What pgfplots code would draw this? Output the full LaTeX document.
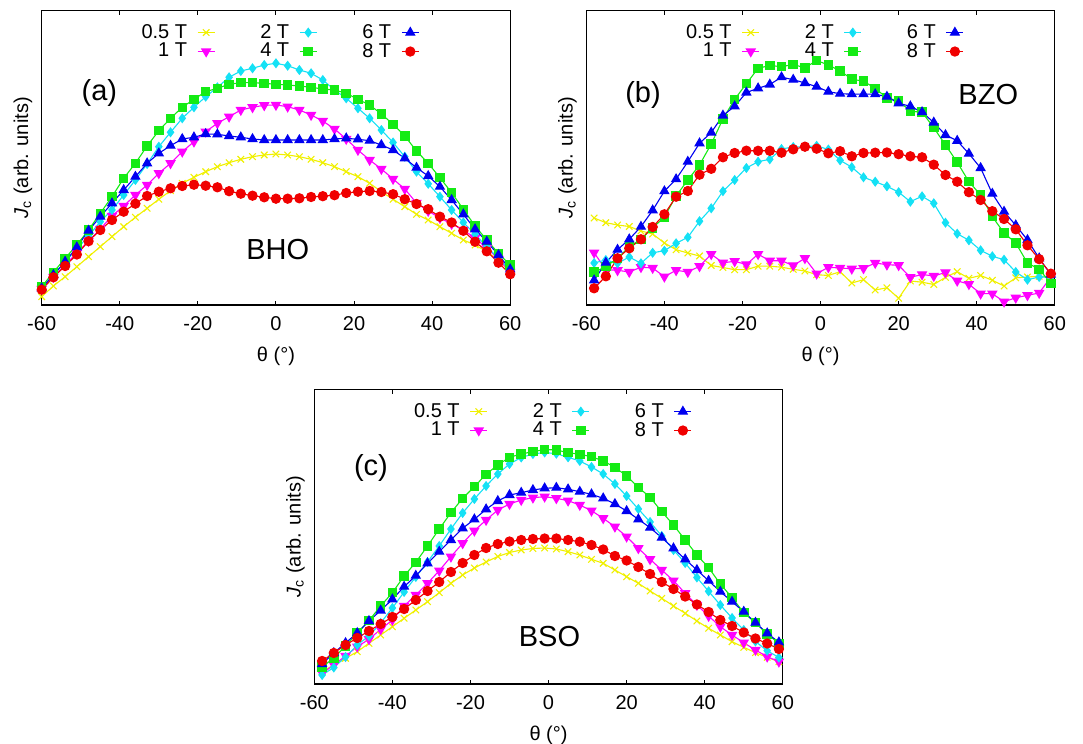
\documentclass[border=0pt]{standalone}
\usepackage{fontspec}
\setmainfont{Liberation Sans}
\usepackage{pgfplots}
\usepackage{pgfplotstable}
\pgfplotsset{compat=1.18}

\definecolor{cyel}{RGB}{240,240,0}
\definecolor{cmag}{RGB}{255,0,255}
\definecolor{ccya}{RGB}{20,225,245}
\definecolor{cgre}{RGB}{20,235,20}
\definecolor{cblu}{RGB}{0,0,240}
\definecolor{cred}{RGB}{240,0,0}

\pgfplotstableread{
x y05 y1 y2 y4 y6 y8
-60 8.3 16 17 18.3 16.7 15.3
-57 19 28 30 32.7 30 27.7
-54 28.3 40 43 46.7 43.3 39
-51 38.3 52 56 60 57.7 50.5
-48 48.3 64 69 75 74.3 63.8
-45 58.3 76 83.3 91.7 88.3 75
-42 68.3 89 95 108.3 101.7 85
-39 78.3 99 110 126.7 115 93.3
-36 87.7 110 125 141.7 128.3 101.3
-33 96.7 120 141 159 141.7 109
-30 105.7 131.7 158.3 174.3 151.7 113.3
-27 114.3 141.7 172.7 186.7 159.3 116.7
-24 121.7 153.3 186.7 197.7 166 119
-21 127.7 163.3 197.7 205.7 167.7 120.3
-18 133.3 173.3 208.3 213.3 171 119.3
-15 138.3 181.7 217.7 216.7 170.7 117.7
-12 142.3 188.3 227.7 220.7 169 113.8
-9 145.7 195 234 222.3 167.7 111.3
-6 148.3 197.7 236.7 222.3 166 109.3
-3 150 199.7 240 221.7 165 107.7
0 151 200 241.7 220.7 165 106.3
3 150 198.3 239.3 220 165 106.3
6 148.3 195 235 219 165 106.7
9 145.7 190 231.7 217.7 165 108
12 142.3 184 225 216 165 108.8
15 138.3 176 215 215 166 109.8
18 133.3 166 206.7 211.7 166.7 112
21 128.3 155 196.7 205.7 165.7 113.3
24 121.7 145 186.7 200 164.3 114
27 113.3 136 175 191 160 113
30 105.7 126 162.5 180.7 155 110.8
33 98.3 116 148.3 169 146.7 105.8
36 90.7 102 133.3 154 137.3 101
39 85 94 121.2 141.7 129 95.8
42 78.3 87 108.3 127.3 118.3 88.3
45 71.7 81 95 112.3 105 82.5
48 65 75 82.5 95.7 90.7 74.2
51 60 67 70.8 79 75.7 63.3
54 53.3 57 58.3 65 63.3 53.7
57 45 46 46.7 51.7 50 42.3
60 33 33 35 40 35.7 30.8
}\tableA

\pgfplotstableread{
x y05 y1 y2 y4 y6 y8
-58 87 52.3 42 32.8 24.7 16.7
-55 82.3 35.3 45 38.3 42.3 28.7
-52 80 34.7 41.7 46.7 55.3 46.7
-49 78.5 33 48 58.3 65.7 56.7
-46 74 37.8 41.7 65.7 78.3 65.7
-43 71 37 52.2 77 94.7 78
-40 62 28.3 54.3 88 113.8 90.7
-37 55.3 34.7 61.7 109 125.8 108.3
-34 52 33 67.7 125 143.3 114
-31 49 38.7 83.8 140 161.7 130.3
-28 39.5 50.8 96.7 161 172.5 136.2
-25 37.5 42.2 113.8 186 189.5 147.7
-22 35.3 43.7 125 205.7 198.7 152
-19 35.3 40.5 137 221.3 212.5 154.3
-16 38.8 50.8 143.3 236.7 216.7 154.2
-13 38.8 44.2 145.7 239.5 220.5 154.2
-10 37.8 44.2 156 238.3 227.8 152.3
-7 35.7 39.5 158 240.5 225.3 155.7
-4 34 46.7 158.3 237.2 222 158.3
-1 30.3 31.3 159.2 244.5 218.3 156.3
2 29.5 37.7 155.5 240 213.3 151.7
5 33.3 37 144.7 234.2 211.3 153.8
8 22 36.2 137.8 225.8 210.8 148.7
11 25.3 36.7 127.7 223.8 210.8 152
14 15 42 123.3 216.7 210.8 152.3
17 17.2 40.3 118.7 207 208.3 152.5
20 6.7 39.7 112.8 204.2 201.7 150.8
23 24 27.7 103.3 193.7 198.7 148.7
26 22.8 30.5 108.7 192.8 192.8 147.7
29 20.5 29 101.7 177.3 182.5 140.3
32 27.7 32.5 82.3 160 170 130
35 33.3 24.2 71.3 142.8 164.2 123.3
38 26.7 20.8 64.7 123.3 151.3 112.8
41 29.5 11.3 54.7 110 137 105
44 24.7 11.3 48.7 88.3 111.3 93.8
47 19 3.3 45.3 72 93.3 86
50 27.2 7.2 33 62 79.7 75.7
53 28 9.7 25.3 42 65 59.7
56 28.7 12 28 35.7 46.7 45.8
59 28 28 28 21.7 30.3 31.3
}\tableB

\pgfplotstableread{
x y05 y1 y2 y4 y6 y8
-58 12.3 10.7 9 17 20 23
-55 19 19 16.5 26 31 31
-52 25.7 28 27 38 41 39
-49 32.3 37.3 39 51 51 46
-46 40.7 44.7 48 63.3 63 53
-43 49 54.7 61 78 73.5 60
-40 57.3 64 76 91.3 84.7 67
-37 65.7 78 92 108 97.3 75
-34 74 89 107 121.7 108.3 84
-31 82.3 100.7 122 138 120.7 93
-28 91.3 113.3 138 155 132.3 102
-25 100.7 127.3 155 171.3 144 112
-22 109 140.7 171 185.7 155.7 121
-19 116 153.3 185 197.3 164.7 129
-16 122 164 198 209.7 174.7 136
-13 127.5 174 210 219 183 140
-10 131.5 180 220 226.7 189 142.5
-7 134 184 226.5 230 191.3 144
-4 135.5 186.3 230 232.3 194 145
-1 136 187.3 231.5 234.5 195.7 145.5
2 135 185.7 230.3 234 196.3 145.5
5 132.3 183.3 226.7 231.3 194.7 144
8 129 179 223 229.7 192.3 142.3
11 124.7 173.3 217 227.3 189.7 139
14 120.7 165.7 210 223 185.7 134.5
17 114 157.3 200 216.7 180 128
20 107.3 147.3 188 208 173 123.5
23 100.7 135.7 175 196.7 164.7 117
26 93 124.7 162 186.7 156.3 110
29 85.7 114 148 172.3 146.3 102
32 78 103.3 134 159 135.7 95
35 70.7 90.7 121 144 124.7 87.5
38 63 79 106.5 129 114 79.5
41 55.7 68 92.7 116.3 103.3 72
44 49 57.3 79 100 92.3 64
47 42.3 49 66 86.3 82.3 58
50 36.7 41.3 54 71.3 72.3 51.5
53 31.3 34 42.5 61.3 61.3 45.5
56 26.7 27.3 33.3 50 50.7 40.5
59 22.3 22.3 26.5 40.7 41.7 35
}\tableC

\newcommand{\fs}{\fontsize{10}{11.5}\selectfont}
\newcommand{\fb}{\fontsize{14.5}{16}\selectfont}

\pgfplotsset{
  s05/.style={color=cyel, line width=0.55pt, mark=x, mark size=2.3pt},
  s1/.style={color=cmag, line width=0.55pt, mark=triangle*, mark size=2.5pt, mark options={rotate=180}},
  s2/.style={color=ccya, line width=0.55pt, mark=diamond*, mark size=2.1pt},
  s4/.style={color=cgre, line width=0.55pt, mark=square*, mark size=2.1pt},
  s6/.style={color=cblu, line width=0.55pt, mark=triangle*, mark size=2.5pt},
  s8/.style={color=cred, line width=0.55pt, mark=*, mark size=2.3pt},
  panel/.style={
    scale only axis, width=234.25pt, height=147.15pt,
    xmin=-60, xmax=60, ymin=0, ymax=294.3,
    xtick={-60,-40,-20,0,20,40,60},
    xticklabels={-60,-40,-20,0,20,40,60},
    ytick=\empty,
    tick align=inside,
    major tick length=2pt,
    axis line style={line width=0.65pt},
    every tick/.style={black, line width=0.5pt},
    tick label style={font=\fs},
    x tick label style={yshift=-2.4pt},
    xlabel={θ (°)},
    xlabel style={at={(axis description cs:0.5,-0.173)}, anchor=center, font=\fs},
    ylabel={\textit{J}\textsubscript{c} (arb. units)},
    ylabel style={at={(axis description cs:-0.04,0.5)}, anchor=center, font=\fs},
    clip=false,
    legend columns=3, legend plot pos=right, legend cell align=right,
    legend style={at={(0.5,1)}, anchor=north, yshift=-6pt, xshift=2pt, draw=none, fill=none,
      font=\fs, inner sep=0pt, row sep=0pt, nodes={inner sep=0.5pt},
      /tikz/every odd column/.append style={column sep=4.5pt},
      /tikz/every even column/.append style={column sep=22pt}},
    legend image code/.code={\draw[mark repeat=2,mark phase=2] plot coordinates {(0cm,0cm) (0.15cm,0cm) (0.3cm,0cm)};},
  },
}

\newcommand{\legimgs}{%
  \addlegendimage{s05}\addlegendentry{0.5 T}
  \addlegendimage{s2}\addlegendentry{2 T}
  \addlegendimage{s6}\addlegendentry{6 T}
  \addlegendimage{s1}\addlegendentry{1 T}
  \addlegendimage{s4}\addlegendentry{4 T}
  \addlegendimage{s8}\addlegendentry{8 T}}

\newcommand{\allplots}[1]{%
  \addplot[s05, forget plot] table[x=x, y=y05] {#1};
  \addplot[s1, forget plot] table[x=x, y=y1] {#1};
  \addplot[s2, forget plot] table[x=x, y=y2] {#1};
  \addplot[s4, forget plot] table[x=x, y=y4] {#1};
  \addplot[s6, forget plot] table[x=x, y=y6] {#1};
  \addplot[s8, forget plot] table[x=x, y=y8] {#1};}

\begin{document}
\begin{tikzpicture}
\useasboundingbox (0,0) rectangle (541.5pt,372pt);

\begin{axis}[panel, at={(20.85pt,219.5pt)}, anchor=south west]
\legimgs
\allplots{\tableA}
\node[font=\fb] at (axis description cs:0.123,0.72) {(a)};
\node[font=\fb] at (axis description cs:0.504,0.19) {BHO};
\end{axis}

\begin{axis}[panel, at={(293.15pt,219.5pt)}, anchor=south west]
\legimgs
\allplots{\tableB}
\node[font=\fb] at (axis description cs:0.121,0.714) {(b)};
\node[font=\fb] at (axis description cs:0.858,0.714) {BZO};
\end{axis}

\begin{axis}[panel, at={(157.15pt,30pt)}, anchor=south west]
\legimgs
\allplots{\tableC}
\node[font=\fb] at (axis description cs:0.121,0.733) {(c)};
\node[font=\fb] at (axis description cs:0.502,0.16) {BSO};
\end{axis}
\end{tikzpicture}
\end{document}
